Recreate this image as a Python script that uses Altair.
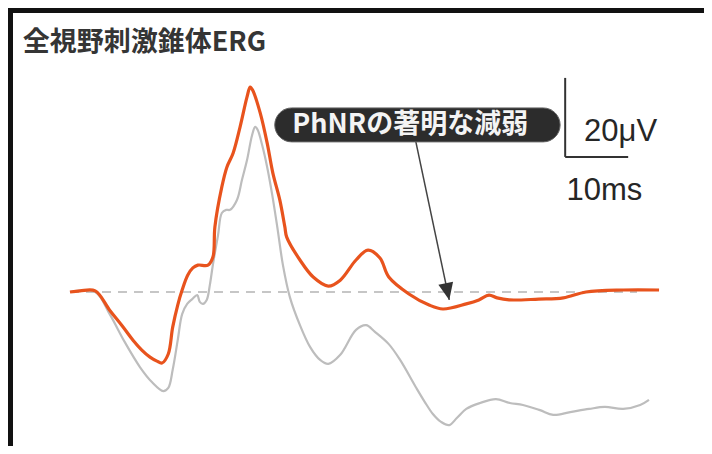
import altair as alt
import pandas as pd

# ---- data (time in ms, amplitude in µV) ----
orange_t = [0.0, 1.6, 4.0, 6.3, 8.3, 10.0, 11.4, 12.7, 13.8, 14.6, 15.6, 16.3, 17.1, 17.8,
            18.7, 19.5, 20.3, 21.9, 22.7, 23.0, 24.1, 24.9, 25.9, 27.0, 28.1, 28.6, 29.0,
            30.2, 31.3, 32.2, 33.3, 34.1, 34.4, 36.5, 38.6, 41.0, 42.9, 45.4, 47.3, 49.2,
            50.6, 53.8, 57.0, 59.2, 62.9, 64.9, 66.5, 67.8, 69.7, 74.4, 78.3, 81.9, 87.8, 93.5]
orange_v = [0.0, 0.3, 0.3, -4.6, -8.6, -12.2, -14.7, -16.5, -17.5, -18.0, -15.7, -8.9, -3.3, 0.5,
            4.3, 6.1, 6.8, 6.8, 8.9, 16.5, 26.6, 31.6, 35.2, 41.8, 49.4, 51.9, 51.1,
            45.3, 37.7, 30.1, 23.3, 16.5, 13.9, 8.1, 3.8, 1.5, 3.0, 8.1, 10.6, 8.6,
            3.8, -0.5, -3.3, -4.3, -3.0, -2.0, -0.8, -1.5, -2.0, -1.8, -1.5, 0.0, 0.5, 0.5]

gray_t = [0.0, 4.0, 6.3, 8.7, 11.1, 13.0, 14.8, 15.6, 16.3, 17.1, 17.8, 18.6, 19.4, 20.2,
          20.6, 21.1, 21.7, 22.2, 22.7, 23.5, 24.1, 24.8, 25.4, 26.5, 27.3, 28.1, 28.9,
          29.4, 29.8, 30.5, 31.3, 32.1, 32.9, 33.8, 34.9, 36.5, 38.1, 39.7, 41.0, 42.9,
          45.4, 47.0, 48.4, 50.6, 52.4, 54.9, 56.3, 57.6, 58.9, 60.2, 61.4, 62.9, 65.1,
          67.6, 69.8, 71.9, 74.6, 76.7, 79.4, 82.4, 84.9, 87.8, 90.5, 91.9]
gray_v = [0.0, 0.0, -5.6, -12.7, -19.0, -22.8, -25.1, -24.3, -19.7, -12.2, -5.6, -3.0, -1.8, -0.8,
          -2.5, -3.0, -2.0, 1.8, 7.1, 14.4, 20.0, 20.8, 20.8, 23.3, 28.4, 33.4, 39.7,
          41.8, 41.0, 37.2, 31.6, 24.6, 16.5, 6.8, -1.3, -8.4, -13.9, -17.2, -18.2, -15.9,
          -9.6, -8.4, -10.1, -13.2, -17.2, -24.1, -27.8, -30.9, -32.9, -33.7, -31.9, -29.6, -28.1,
          -27.1, -28.1, -28.6, -29.9, -31.1, -30.4, -29.6, -29.1, -29.6, -28.6, -27.3]

title_text = "全視野刺激錐体ERG"
label_text = "PhNRの著明な減弱"
scale_v_text = "20μV"
scale_t_text = "10ms"

# annotation anchors (ms, µV)
baseline_t = [0.0, 90.0]
pill_t = [32.5, 77.8]
pill_v = [38.0, 46.6]
label_pos = [54.0, 42.3]
arrow_from = [54.9, 38.0]
arrow_to = [60.2, -2.0]
bar_t0, bar_dt = 78.6, 10.0
bar_v0, bar_dv = 34.2, 20.0
vtext_pos = [81.6, 40.6]
ttext_pos = [78.8, 25.6]
title_pos = [-7.5, 63.0]

W, H = 696, 438
xs = alt.Scale(domain=[-9.841, 100.635], nice=False, zero=False)
ys = alt.Scale(domain=[-38.99, 71.90], nice=False, zero=False)


def X(field="t"):
    return alt.X(f"{field}:Q", scale=xs, axis=None)


def Y(field="v"):
    return alt.Y(f"{field}:Q", scale=ys, axis=None)


orange_df = pd.DataFrame({"t": orange_t, "v": orange_v})
gray_df = pd.DataFrame({"t": gray_t, "v": gray_v})

base_df = pd.DataFrame({"t": [baseline_t[0]], "t2": [baseline_t[1]], "v": [0.0]})
baseline = alt.Chart(base_df).mark_rule(color="#b4b4b4", strokeWidth=1.6, strokeDash=[9, 7]).encode(
    x=X(), x2="t2:Q", y=Y())

gray_line = alt.Chart(gray_df).mark_line(color="#bdbdbd", strokeWidth=2.2, interpolate="catmull-rom").encode(
    x=X(), y=Y())
orange_line = alt.Chart(orange_df).mark_line(color="#e8531d", strokeWidth=3.2, interpolate="catmull-rom").encode(
    x=X(), y=Y())

arrow_df = pd.DataFrame({"t": [arrow_from[0]], "v": [arrow_from[1]], "t2": [arrow_to[0]], "v2": [arrow_to[1]]})
arrow_line = alt.Chart(arrow_df).mark_rule(color="#444444", strokeWidth=1.5).encode(
    x=X(), y=Y(), x2="t2:Q", y2="v2:Q")
head_df = pd.DataFrame({"t": [arrow_to[0]], "v": [arrow_to[1]]})
arrow_head = alt.Chart(head_df).mark_point(
    shape="M0,0L-0.75,-1.7L0.75,-1.7Z", filled=True, size=400, angle=348,
    color="#333333", opacity=1).encode(x=X(), y=Y())

pill_df = pd.DataFrame({"t": [pill_t[0]], "t2": [pill_t[1]], "v": [pill_v[0]], "v2": [pill_v[1]]})
pill = alt.Chart(pill_df).mark_rect(color="#2c2c2c", cornerRadius=17, stroke="#666666", strokeWidth=1).encode(
    x=X(), x2="t2:Q", y=Y(), y2="v2:Q")
label_df = pd.DataFrame({"t": [label_pos[0]], "v": [label_pos[1]], "txt": [label_text]})
label = alt.Chart(label_df).mark_text(
    font="Noto Sans CJK JP", fontWeight="bold", fontSize=27, color="#f4f4f4",
    align="center", baseline="middle").encode(x=X(), y=Y(), text="txt:N")

bar_v_df = pd.DataFrame({"t": [bar_t0], "v": [bar_v0], "v2": [bar_v0 + bar_dv]})
bar_h_df = pd.DataFrame({"t": [bar_t0], "t2": [bar_t0 + bar_dt], "v": [bar_v0]})
bar_v = alt.Chart(bar_v_df).mark_rule(color="#333333", strokeWidth=2).encode(x=X(), y=Y(), y2="v2:Q")
bar_h = alt.Chart(bar_h_df).mark_rule(color="#333333", strokeWidth=2).encode(x=X(), x2="t2:Q", y=Y())

txt_df = pd.DataFrame({"t": [vtext_pos[0], ttext_pos[0]], "v": [vtext_pos[1], ttext_pos[1]],
                       "txt": [scale_v_text, scale_t_text]})
scale_txt = alt.Chart(txt_df).mark_text(
    font="Liberation Sans", fontSize=31, color="#262626", align="left", baseline="middle").encode(
    x=X(), y=Y(), text="txt:N")

title_df = pd.DataFrame({"t": [title_pos[0]], "v": [title_pos[1]], "txt": [title_text]})
title = alt.Chart(title_df).mark_text(
    font="Noto Sans CJK JP", fontWeight="bold", fontSize=27, color="#353535",
    align="left", baseline="middle").encode(x=X(), y=Y(), text="txt:N")

frame_left = alt.Chart(base_df).mark_rule(color="#111111", strokeWidth=5).encode(
    x=alt.value(2.5), y=alt.value(0), y2=alt.value(H))
frame_top = alt.Chart(base_df).mark_rule(color="#111111", strokeWidth=5).encode(
    y=alt.value(2.5), x=alt.value(0), x2=alt.value(W))

chart = alt.layer(
    baseline, gray_line, orange_line, arrow_line, arrow_head, pill, label,
    bar_v, bar_h, scale_txt, title, frame_left, frame_top
).properties(
    width=W, height=H, padding=0, autosize=alt.AutoSizeParams(type="none")
).configure_view(
    fill="#f7f5f2", stroke="transparent"
).configure(background="white")

chart.save("out.html", embed_options={"renderer": "svg", "actions": False})
